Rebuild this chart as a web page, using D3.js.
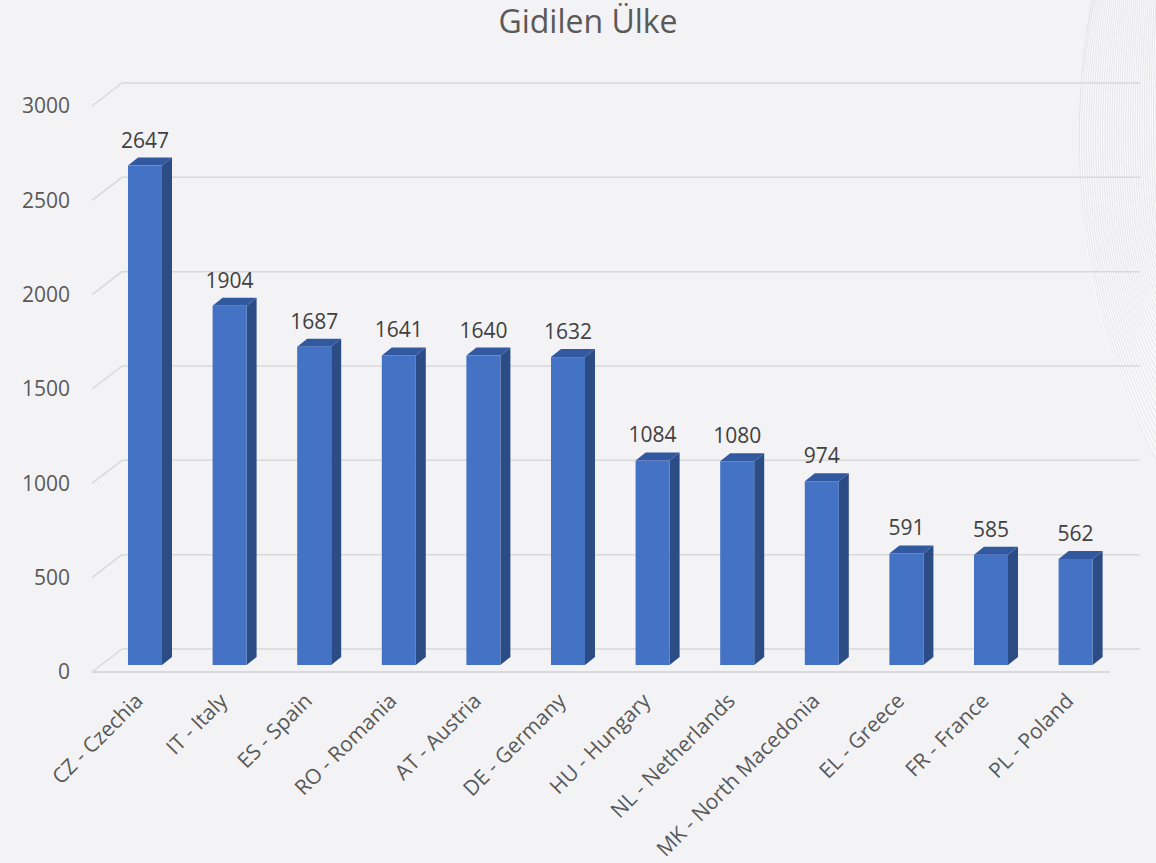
<!DOCTYPE html>
<html>
<head>
<meta charset="utf-8">
<script src="https://cdn.jsdelivr.net/npm/d3@7"></script>
<style>
  body { margin: 0; background: #f3f3f5; }
  svg { display: block; font-family: "Open Sans", sans-serif; }
</style>
</head>
<body>
<div id="chart"></div>
<script>
// data
var categories = ['CZ - Czechia', 'IT - Italy', 'ES - Spain', 'RO - Romania', 'AT - Austria',
    'DE - Germany', 'HU - Hungary', 'NL - Netherlands', 'MK - North Macedonia',
    'EL - Greece', 'FR - France', 'PL - Poland'];
var values = [2647, 1904, 1687, 1641, 1640, 1632, 1084, 1080, 974, 591, 585, 562];
var yTicks = [0, 500, 1000, 1500, 2000, 2500, 3000];
var title = 'Gidilen Ülke';

var width = 1156,
    height = 863,
    depthX = 30, depthY = 23,     // floor depth offset
    barDX = 10, barDY = 8,        // bar depth offset
    textColor = '#595959',
    gridColor = '#d9d9d9';

var svg = d3.select('#chart').append('svg')
    .attr('width', width)
    .attr('height', height);

svg.append('rect').attr('width', width).attr('height', height).attr('fill', '#f3f3f5');

// faint decorative waves on the right side
var deco = svg.append('g').attr('class', 'deco');
deco.append('path')
    .attr('d', 'M1095,0 Q1045,250 1156,460 L1156,0 Z')
    .attr('fill', '#f9f9fa');
for (var k = 0; k < 40; k++) {
    deco.append('path')
        .attr('d', 'M' + (1092 + k * 2) + ',0 Q' + (1048 + k * 3) + ',' + (240 + k * 2) + ' ' + (1156 + k) + ',' + (460 - k * 6))
        .attr('fill', 'none')
        .attr('stroke', '#d2d2d8')
        .attr('stroke-width', 0.6)
        .attr('opacity', 0.8);
}

// scales
var yBack = d3.scaleLinear().domain([0, 3000]).range([649, 83]);
var yBar = d3.scaleLinear().domain([0, 3000]).range([665, 665 - 566]);
var xScale = d3.scaleBand()
    .domain(categories)
    .range([101, 1119.6])
    .paddingInner(0.598)
    .paddingOuter(0.319);

// title
svg.append('text')
    .attr('x', 588)
    .attr('y', 33)
    .attr('text-anchor', 'middle')
    .attr('font-size', 32)
    .attr('fill', textColor)
    .text(title);

// gridlines (back wall + side diagonal)
var grid = svg.append('g').attr('class', 'grid');
grid.selectAll('line.h')
    .data(yTicks)
    .enter().append('line')
    .attr('class', 'h')
    .attr('x1', 122)
    .attr('x2', 1140)
    .attr('y1', function(d) { return yBack(d); })
    .attr('y2', function(d) { return yBack(d); })
    .attr('stroke', gridColor)
    .attr('stroke-width', 1.5);

grid.selectAll('line.d')
    .data(yTicks)
    .enter().append('line')
    .attr('class', 'd')
    .attr('x1', 92)
    .attr('x2', 122)
    .attr('y1', function(d) { return yBack(d) + depthY; })
    .attr('y2', function(d) { return yBack(d); })
    .attr('stroke', gridColor)
    .attr('stroke-width', 1.5);

// floor front edge
grid.append('line')
    .attr('x1', 92)
    .attr('x2', 1140 - depthX)
    .attr('y1', yBack(0) + depthY)
    .attr('y2', yBack(0) + depthY)
    .attr('stroke', gridColor)
    .attr('stroke-width', 2);

// y axis labels
svg.append('g').selectAll('text')
    .data(yTicks)
    .enter().append('text')
    .attr('x', 70)
    .attr('y', function(d) { return yBack(d) + depthY; })
    .attr('dy', '0.35em')
    .attr('text-anchor', 'end')
    .attr('font-size', 21)
    .attr('fill', textColor)
    .text(function(d) { return d; });

// bars
var data = categories.map(function(c, i) { return { cat: c, value: values[i] }; });
var bars = svg.append('g').attr('class', 'bars')
    .selectAll('g')
    .data(data)
    .enter().append('g');

var bw = xScale.bandwidth();

// side face
bars.append('path')
    .attr('fill', '#2c4c85')
    .attr('d', function(d) {
        var x = xScale(d.cat) + bw, t = yBar(d.value), b = yBar(0);
        return 'M' + x + ',' + t + 'L' + (x + barDX) + ',' + (t - barDY) +
            'L' + (x + barDX) + ',' + (b - barDY) + 'L' + x + ',' + b + 'Z';
    });

// top face
bars.append('path')
    .attr('fill', '#3258a0')
    .attr('d', function(d) {
        var x = xScale(d.cat), t = yBar(d.value);
        return 'M' + x + ',' + t + 'L' + (x + barDX) + ',' + (t - barDY) +
            'L' + (x + bw + barDX) + ',' + (t - barDY) + 'L' + (x + bw) + ',' + t + 'Z';
    });

// front face
bars.append('rect')
    .attr('x', function(d) { return xScale(d.cat); })
    .attr('y', function(d) { return yBar(d.value); })
    .attr('width', bw)
    .attr('height', function(d) { return yBar(0) - yBar(d.value); })
    .attr('fill', '#4472c4');

// value labels
bars.append('text')
    .attr('x', function(d) { return xScale(d.cat) + bw / 2; })
    .attr('y', function(d) { return yBar(d.value) - 18; })
    .attr('text-anchor', 'middle')
    .attr('font-size', 21)
    .attr('fill', '#404040')
    .text(function(d) { return d.value; });

// category labels
svg.append('g').selectAll('text')
    .data(categories)
    .enter().append('text')
    .attr('transform', function(d) {
        return 'translate(' + (xScale(d) + bw / 2 - 6) + ',' + 697 + ') rotate(-45)';
    })
    .attr('text-anchor', 'end')
    .attr('dy', '0.35em')
    .attr('font-size', 21)
    .attr('fill', textColor)
    .text(function(d) { return d; });
</script>
</body>
</html>
